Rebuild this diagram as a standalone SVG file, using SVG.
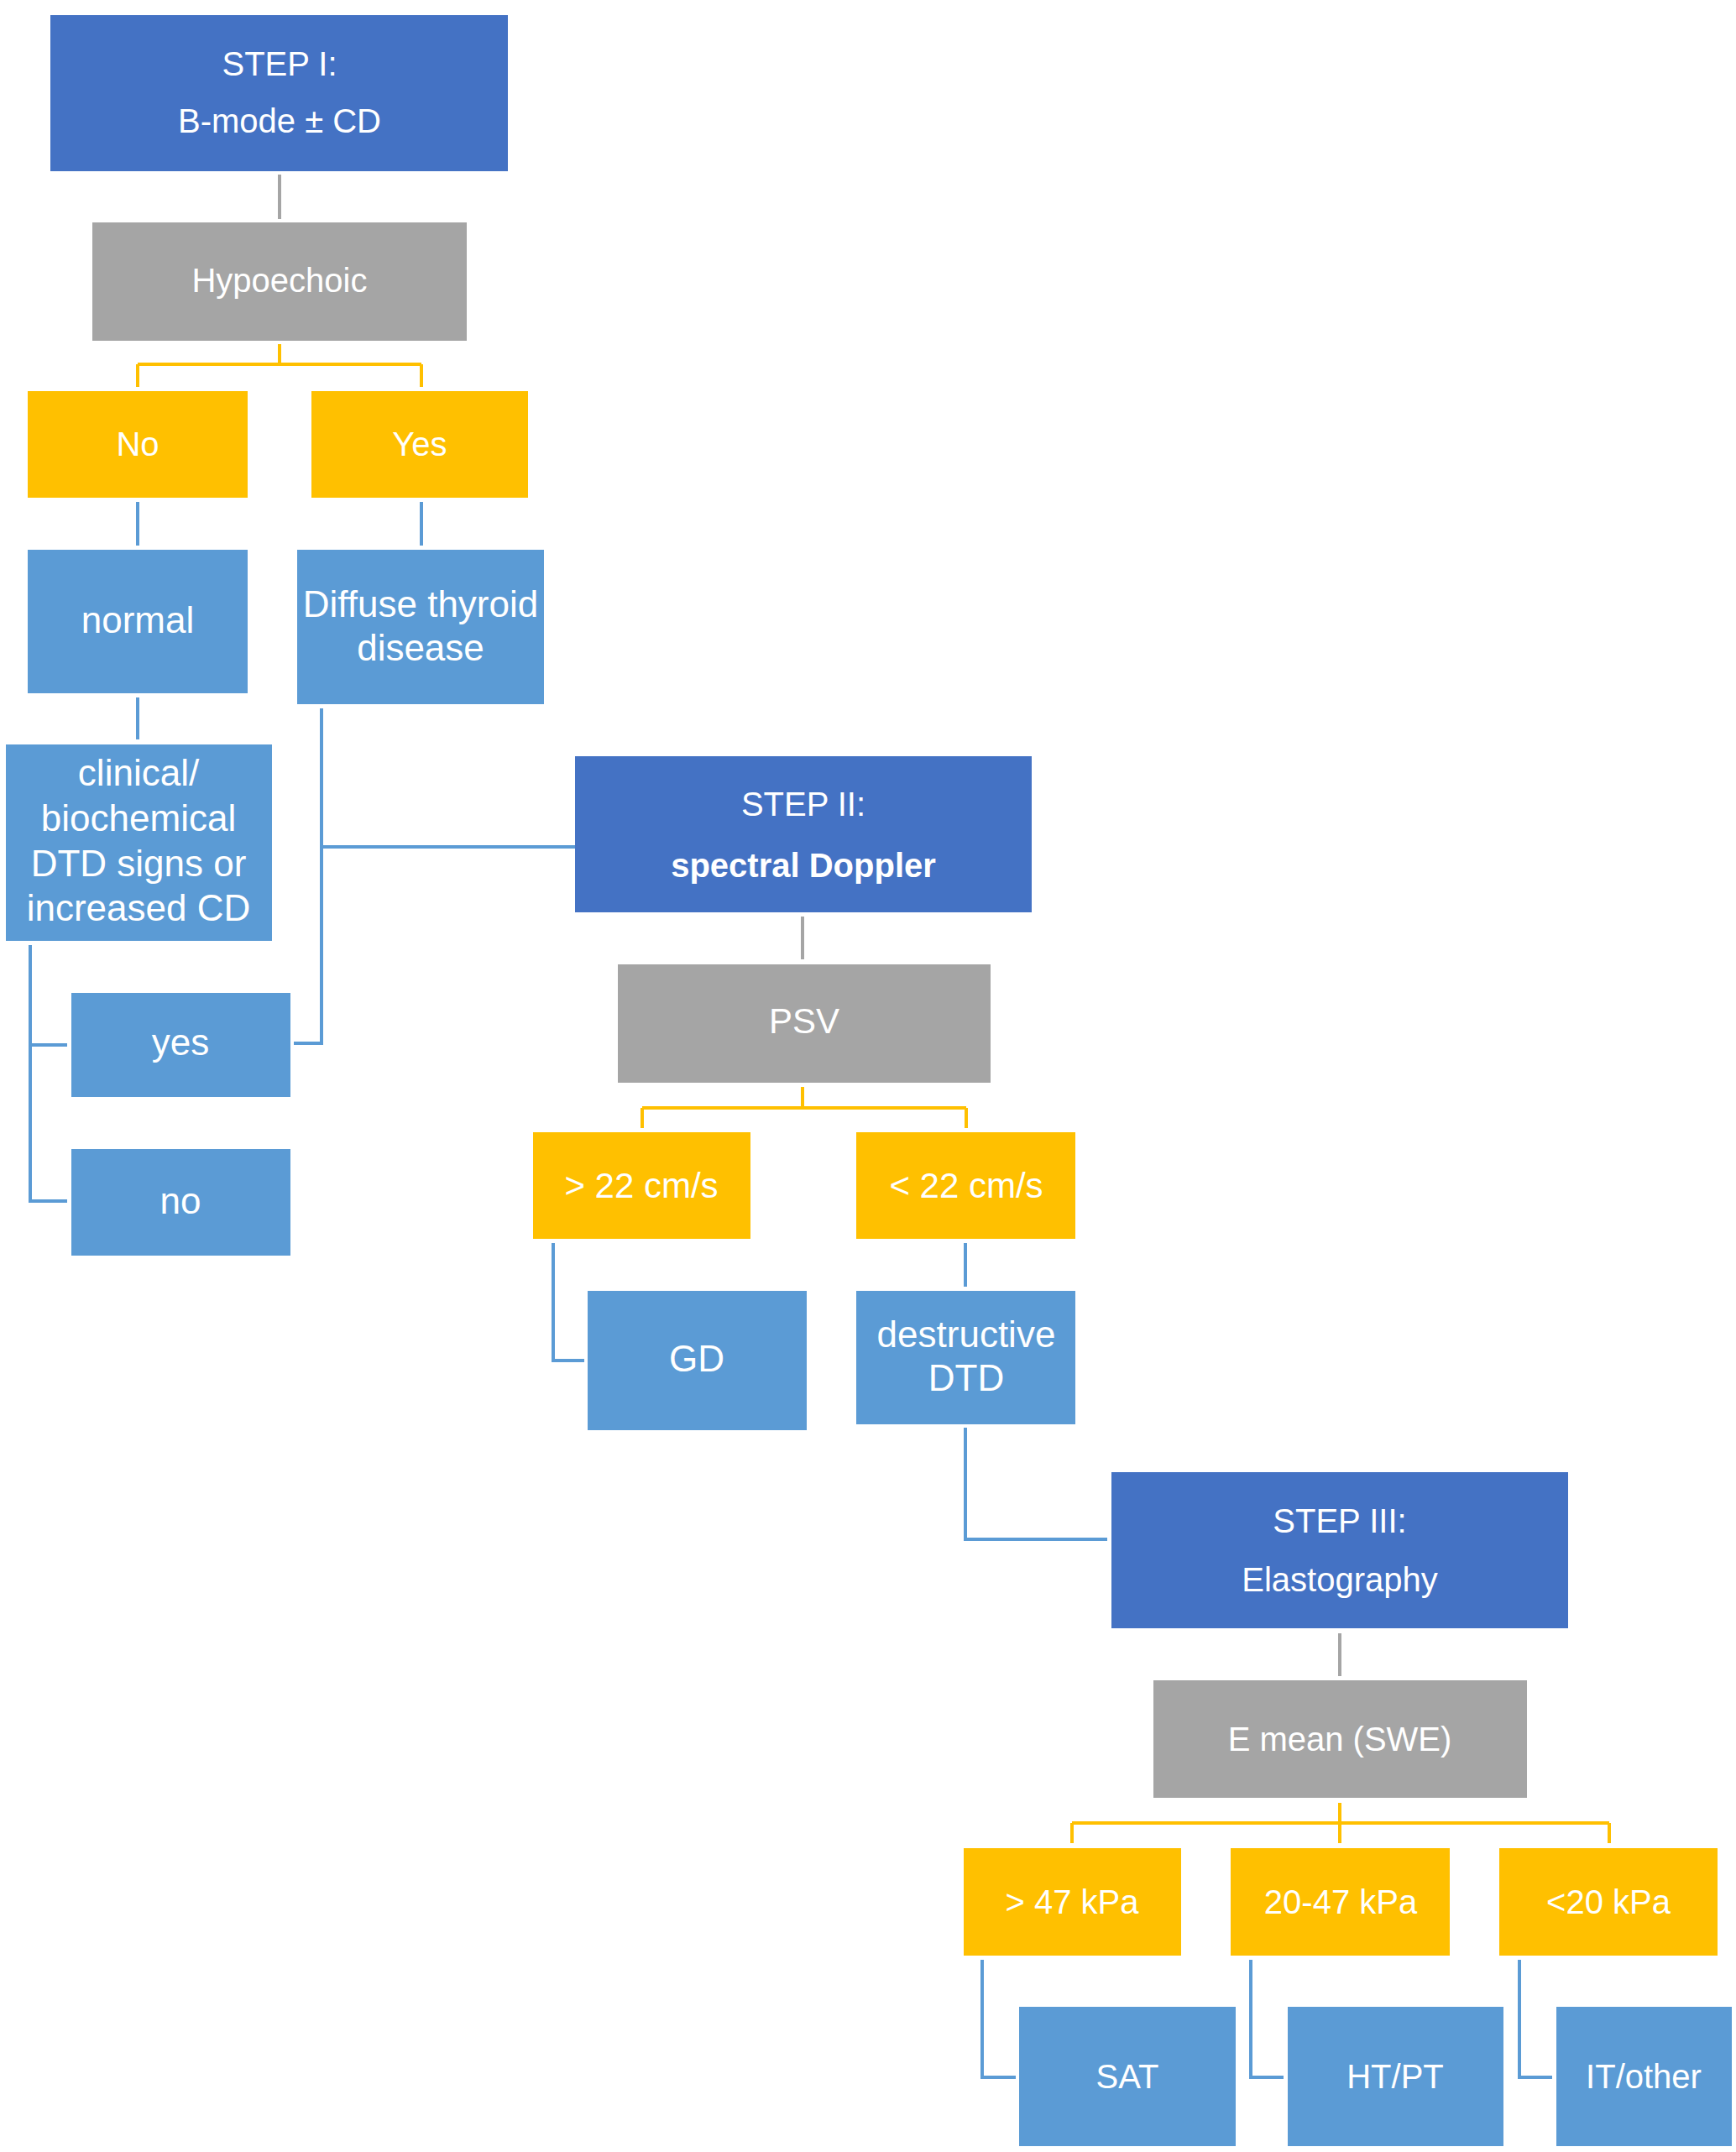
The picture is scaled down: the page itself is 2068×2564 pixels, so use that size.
<svg xmlns="http://www.w3.org/2000/svg" width="2068" height="2564" viewBox="0 0 2068 2564">
<style>
.step{fill:#4472C4}
.grey{fill:#A5A5A5}
.gold{fill:#FFC000}
.lb{fill:#5B9BD5}
text{font-family:"Liberation Sans",Arial,sans-serif;fill:#FFFFFF;text-anchor:middle}
.c{font-size:40px}
.s{font-size:44px}
.m{font-size:42px}
.b{font-weight:bold}
.lnb{fill:none;stroke:#5B9BD5;stroke-width:4}
.lng{fill:none;stroke:#A5A5A5;stroke-width:4}
.lno{fill:none;stroke:#FFC000;stroke-width:4}
</style>
<rect x="0" y="0" width="2068" height="2564" fill="#FFFFFF"/>
<g id="connectors">
<path class="lng" d="M333 208V261"/>
<path class="lno" d="M333 410V434M164 434H502M164 434V461M502 434V461"/>
<path class="lnb" d="M164 598V650M502 598V650"/>
<path class="lnb" d="M164 831V881"/>
<path class="lnb" d="M383 844V1243H350M383 1009H685"/>
<path class="lnb" d="M36 1126V1431H80M36 1245H80"/>
<path class="lng" d="M956 1092V1143"/>
<path class="lno" d="M956 1295V1320M765 1320H1151M765 1320V1344M1151 1320V1344"/>
<path class="lnb" d="M659 1481V1621H696"/>
<path class="lnb" d="M1150 1481V1533"/>
<path class="lnb" d="M1150 1701V1834H1319"/>
<path class="lng" d="M1596 1946V1997"/>
<path class="lno" d="M1596 2148V2196M1277 2172H1917M1277 2172V2196M1917 2172V2196"/>
<path class="lnb" d="M1170 2335V2475H1210M1490 2335V2475H1529M1810 2335V2475H1849"/>
</g>
<g id="step1"><rect class="step" x="60" y="18" width="545" height="186"/><text class="c" x="333" y="90">STEP I:</text><text class="c" x="333" y="158">B-mode ± CD</text></g>
<g id="hypoechoic"><rect class="grey" x="110" y="265" width="446" height="141"/><text class="c" x="333" y="348">Hypoechoic</text></g>
<g id="no1"><rect class="gold" x="33" y="466" width="262" height="127"/><text class="c" x="164" y="543">No</text></g>
<g id="yes1"><rect class="gold" x="371" y="466" width="258" height="127"/><text class="c" x="500" y="543">Yes</text></g>
<g id="normal"><rect class="lb" x="33" y="655" width="262" height="171"/><text class="s" x="164" y="754">normal</text></g>
<g id="diffuse"><rect class="lb" x="354" y="655" width="294" height="184"/><text class="s" x="501" y="735">Diffuse thyroid</text><text class="s" x="501" y="787">disease</text></g>
<g id="clinical"><rect class="lb" x="7" y="887" width="317" height="234"/><text class="s" x="165" y="936">clinical/</text><text class="s" x="165" y="990">biochemical</text><text class="s" x="165" y="1044">DTD signs or</text><text class="s" x="165" y="1097">increased CD</text></g>
<g id="yes2"><rect class="lb" x="85" y="1183" width="261" height="124"/><text class="s" x="215" y="1257">yes</text></g>
<g id="no2"><rect class="lb" x="85" y="1369" width="261" height="127"/><text class="s" x="215" y="1446">no</text></g>
<g id="step2"><rect class="step" x="685" y="901" width="544" height="186"/><text class="c" x="957" y="972">STEP II:</text><text class="c b" x="957" y="1045">spectral Doppler</text></g>
<g id="psv"><rect class="grey" x="736" y="1149" width="444" height="141"/><text class="m" x="958" y="1231">PSV</text></g>
<g id="gt22"><rect class="gold" x="635" y="1349" width="259" height="127"/><text class="m" x="764" y="1427">&gt; 22 cm/s</text></g>
<g id="lt22"><rect class="gold" x="1020" y="1349" width="261" height="127"/><text class="m" x="1151" y="1427">&lt; 22 cm/s</text></g>
<g id="gd"><rect class="lb" x="700" y="1538" width="261" height="166"/><text class="s" x="830" y="1634">GD</text></g>
<g id="destructive"><rect class="lb" x="1020" y="1538" width="261" height="159"/><text class="s" x="1151" y="1605">destructive</text><text class="s" x="1151" y="1657">DTD</text></g>
<g id="step3"><rect class="step" x="1324" y="1754" width="544" height="186"/><text class="c" x="1596" y="1826">STEP III:</text><text class="c" x="1596" y="1896">Elastography</text></g>
<g id="emean"><rect class="grey" x="1374" y="2002" width="445" height="140"/><text class="c" x="1596" y="2086">E mean (SWE)</text></g>
<g id="gt47"><rect class="gold" x="1148" y="2202" width="259" height="128"/><text class="c" x="1277" y="2280">&gt; 47 kPa</text></g>
<g id="mid"><rect class="gold" x="1466" y="2202" width="261" height="128"/><text class="c" x="1597" y="2280">20-47 kPa</text></g>
<g id="lt20"><rect class="gold" x="1786" y="2202" width="260" height="128"/><text class="c" x="1916" y="2280">&lt;20 kPa</text></g>
<g id="sat"><rect class="lb" x="1214" y="2391" width="258" height="166"/><text class="c" x="1343" y="2488">SAT</text></g>
<g id="htpt"><rect class="lb" x="1534" y="2391" width="257" height="166"/><text class="c" x="1662" y="2488">HT/PT</text></g>
<g id="itother"><rect class="lb" x="1854" y="2391" width="209" height="166"/><text class="c" x="1958" y="2488">IT/other</text></g>
</svg>
